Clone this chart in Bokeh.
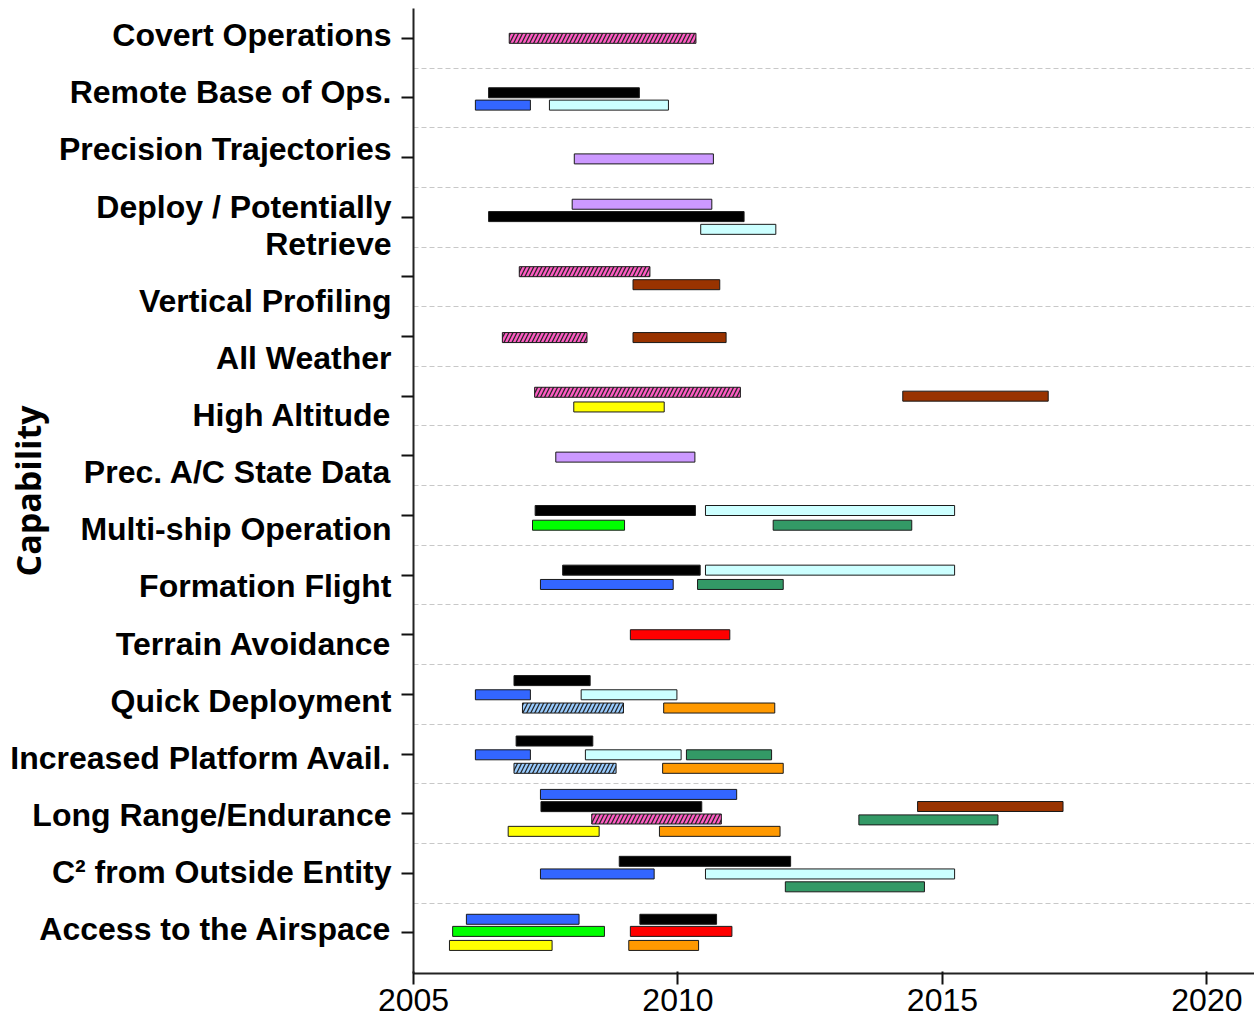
from bokeh.plotting import figure
from bokeh.models import ColumnDataSource, FixedTicker
from bokeh.embed import file_html
from bokeh.resources import INLINE

# ---------------- data ----------------
categories = [
    "Access to the Airspace", "C\u00b2 from Outside Entity", "Long Range/Endurance",
    "Increased Platform Avail.", "Quick Deployment", "Terrain Avoidance",
    "Formation Flight", "Multi-ship Operation", "Prec. A/C State Data",
    "High Altitude", "All Weather", "Vertical Profiling",
    "Deploy / Potentially\nRetrieve", "Precision Trajectories",
    "Remote Base of Ops.", "Covert Operations",
]
year_ticks = [2005, 2010, 2015, 2020]

bar_cat = (
    ["Covert Operations"]
    + ["Remote Base of Ops."] * 3
    + ["Precision Trajectories"]
    + ["Deploy / Potentially\nRetrieve"] * 3
    + ["Vertical Profiling"] * 2
    + ["All Weather"] * 2
    + ["High Altitude"] * 3
    + ["Prec. A/C State Data"]
    + ["Multi-ship Operation"] * 4
    + ["Formation Flight"] * 4
    + ["Terrain Avoidance"]
    + ["Quick Deployment"] * 5
    + ["Increased Platform Avail."] * 6
    + ["Long Range/Endurance"] * 7
    + ["C\u00b2 from Outside Entity"] * 4
    + ["Access to the Airspace"] * 6
)
bar_kind = [
    "pink_hatch",
    "black", "blue", "cyan",
    "lavender",
    "lavender", "black", "cyan",
    "pink_hatch", "brown",
    "pink_hatch", "brown",
    "pink_hatch", "yellow", "brown",
    "lavender",
    "black", "cyan", "green", "seagreen",
    "black", "cyan", "blue", "seagreen",
    "red",
    "black", "blue", "cyan", "lightblue_hatch", "orange",
    "black", "blue", "cyan", "seagreen", "lightblue_hatch", "orange",
    "blue", "black", "brown", "pink_hatch", "seagreen", "yellow", "orange",
    "black", "blue", "cyan", "seagreen",
    "blue", "black", "green", "red", "yellow", "orange",
]
bar_start = [
    2006.81,
    2006.42, 2006.17, 2007.57,
    2008.04,
    2008.00, 2006.42, 2010.43,
    2007.00, 2009.15,
    2006.68, 2009.15,
    2007.29, 2008.03, 2014.25,
    2007.69,
    2007.30, 2010.52, 2007.25, 2011.80,
    2007.82, 2010.52, 2007.40, 2010.37,
    2009.10,
    2006.90, 2006.17, 2008.17, 2007.06, 2009.73,
    2006.94, 2006.17, 2008.25, 2010.16, 2006.90, 2009.71,
    2007.40, 2007.41, 2014.53, 2008.37, 2013.42, 2006.79, 2009.65,
    2008.89, 2007.40, 2010.52, 2012.03,
    2006.00, 2009.28, 2005.74, 2009.10, 2005.68, 2009.07,
]
bar_end = [
    2010.34,
    2009.27, 2007.21, 2009.82,
    2010.67,
    2010.64, 2011.25, 2011.85,
    2009.47, 2010.79,
    2008.28, 2010.91,
    2011.18, 2009.74, 2017.00,
    2010.32,
    2010.33, 2015.23, 2008.99, 2014.42,
    2010.42, 2015.23, 2009.91, 2011.99,
    2010.98,
    2008.34, 2007.21, 2009.98, 2008.97, 2011.83,
    2008.39, 2007.21, 2010.06, 2011.77, 2008.83, 2011.99,
    2011.11, 2010.45, 2017.28, 2010.82, 2016.05, 2008.51, 2011.93,
    2012.13, 2009.55, 2015.23, 2014.66,
    2008.13, 2010.73, 2008.61, 2011.02, 2007.62, 2010.39,
]
# sub-row of each bar inside its capability band (positive = lower)
bar_lane = [
    0.0,
    -0.4, 0.55, 0.55,
    0.1,
    -1.0, -0.05, 0.93,
    -0.4, 0.6,
    0.08, 0.08,
    -0.3, 0.83, 0.0,
    0.1,
    -0.38, -0.38, 0.75, 0.75,
    -0.38, -0.38, 0.72, 0.72,
    0.0,
    -1.06, 0.03, 0.03, 1.05, 1.05,
    -1.0, 0.06, 0.06, 0.06, 1.1, 1.1,
    -1.48, -0.54, -0.55, 0.41, 0.48, 1.36, 1.36,
    -0.92, 0.05, 0.05, 1.04,
    -1.05, -1.05, -0.12, -0.12, 0.96, 0.96,
]

# ---------------- styles ----------------
fills = {
    "pink_hatch": "#FF5CC4", "black": "#000000", "blue": "#3366FF",
    "cyan": "#CCFFFF", "lavender": "#CC99FF", "brown": "#993300",
    "yellow": "#FFFF00", "green": "#00FF00", "seagreen": "#339966",
    "red": "#FF0000", "orange": "#FF9900", "lightblue_hatch": "#99CCFF",
}

Y0, Y1 = -0.68, 15.5
X0, X1 = 2005, 2020.90
FRAME_H = 964.7
PX = FRAME_H / (Y1 - Y0)          # pixels per category unit
LANE = 13.0 / PX
BAR_H = 10.0 / PX

p = figure(width=1254, height=1017, x_range=(X0, X1), y_range=(Y0, Y1),
           output_backend="svg", toolbar_location=None,
           min_border_left=413, min_border_right=0, min_border_top=8,
           min_border_bottom=44)
p.title = None
p.outline_line_color = None

cat_index = {c: i for i, c in enumerate(categories)}
ys = [cat_index[c] - l * LANE for c, l in zip(bar_cat, bar_lane)]

solid = dict(y=[], left=[], right=[], fill=[])
hatched = dict(y=[], left=[], right=[], fill=[])
for y, s, e, k in zip(ys, bar_start, bar_end, bar_kind):
    d = hatched if k.endswith("hatch") else solid
    d["y"].append(y); d["left"].append(s); d["right"].append(e); d["fill"].append(fills[k])

p.hbar(y="y", left="left", right="right", height=BAR_H, source=ColumnDataSource(solid),
       fill_color="fill", line_color="#1a1a1a", line_width=1)
p.hbar(y="y", left="left", right="right", height=BAR_H, source=ColumnDataSource(hatched),
       fill_color="fill", line_color="#1a1a1a", line_width=1,
       hatch_pattern="/", hatch_color="#262626", hatch_scale=8, hatch_weight=1.3)

# category labels laid out as a text column (57 px line pitch), tick marks at band centres
LINE_STEP = 57.1 / PX
BASE = 3.8 / PX
lab_pos, overrides = [], {}
line = 0.0
for c in categories:
    parts = c.split("\n")
    for j, part in enumerate(reversed(parts)):
        pos = round(BASE + (line + 0.65 * j) * LINE_STEP, 4)
        lab_pos.append(pos)
        overrides[pos] = part
    line += 1.0 + 0.65 * (len(parts) - 1)

yax = p.yaxis[0]
yax.ticker = FixedTicker(ticks=lab_pos, minor_ticks=list(range(len(categories))))
yax.major_label_overrides = overrides
yax.major_tick_out = 0
yax.major_tick_in = 0
yax.major_tick_line_color = None
yax.minor_tick_out = 12
yax.minor_tick_in = 0
yax.minor_tick_line_width = 2
yax.minor_tick_line_color = "#111111"
yax.axis_line_width = 2
yax.axis_line_color = "#222222"
yax.major_label_standoff = 10
yax.major_label_text_font = "Liberation Sans"
yax.major_label_text_font_style = "bold"
yax.major_label_text_font_size = "32px"
yax.major_label_text_color = "black"
yax.axis_label = "Capability"
yax.axis_label_text_font = "Open Sans"
yax.axis_label_text_font_style = "bold"
yax.axis_label_text_font_size = "34px"
yax.axis_label_text_color = "black"
yax.axis_label_standoff = -44

xax = p.xaxis[0]
xax.ticker = FixedTicker(ticks=year_ticks)
xax.major_tick_out = 11
xax.major_tick_in = 2
xax.major_tick_line_width = 2
xax.major_tick_line_color = "#111111"
xax.axis_line_width = 2
xax.axis_line_color = "#222222"
xax.major_label_standoff = 4
xax.major_label_text_font = "Liberation Sans"
xax.major_label_text_font_size = "32px"
xax.major_label_text_color = "black"

p.xgrid.visible = False
p.ygrid.ticker = FixedTicker(ticks=[i + 0.5 for i in range(len(categories))])
p.ygrid.grid_line_color = "#c8c8c8"
p.ygrid.grid_line_dash = "5 3"
p.ygrid.grid_line_width = 1

open("out.html", "w").write(file_html(p, INLINE))
